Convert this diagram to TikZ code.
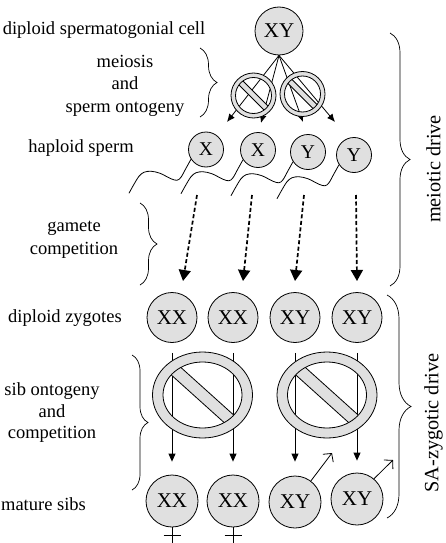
\documentclass[tikz,border=0pt]{standalone}
\usepackage{fontspec}
\setmainfont{Liberation Serif}
\usetikzlibrary{arrows.meta,decorations.pathreplacing,calc}
\definecolor{cellgray}{gray}{0.88}
\newcommand\nosign[7]{%
  \fill[cellgray, even odd rule] (#1) ellipse[x radius=#2,y radius=#3] (#1) ellipse[x radius=#4,y radius=#5];
  \begin{scope}
    \clip (#1) ellipse[x radius=#4,y radius=#5];
    \filldraw[fill=cellgray, line width=.8pt, shift={(#1)}, rotate=#7] (-90,-#6) -- (90,-#6) -- (90,#6) -- (-90,#6) -- cycle;
  \end{scope}
  \draw[line width=.8pt] (#1) ellipse[x radius=#2,y radius=#3] (#1) ellipse[x radius=#4,y radius=#5];
}
\begin{document}
\begin{tikzpicture}[x=1pt,y=-1pt,
  cell/.style={circle,draw,fill=cellgray,line width=.8pt,inner sep=0pt,minimum size=#1},
  lab/.style={font=\fontsize{18.5}{22}\selectfont,anchor=base,inner sep=0pt},
  side/.style={font=\fontsize{20.3}{24}\selectfont,rotate=90,inner sep=0pt},
  brc/.style={decorate,decoration={brace,amplitude=#1},line width=.7pt},
  marrow/.style={line width=.8pt,-{Latex[length=8pt,width=7pt]}},
  darrow/.style={line width=1.7pt,dash pattern=on 4pt off 2.5pt,-{Triangle[length=11pt,width=12pt]}},
  varrow/.style={line width=.8pt,-{Triangle[length=8pt,width=7pt]}},
  tail/.style={line width=.8pt},
  sym/.style={line width=.8pt},
  big/.style={font=\fontsize{21}{21}\selectfont},
  small/.style={font=\fontsize{19.5}{19.5}\selectfont},
]
\useasboundingbox (0,0) rectangle (445,543);

% ---- labels on the left
\node[lab] (l1) at (104,35) {diploid spermatogonial cell};
\node[lab] (l2a) at (125,67) {meiosis};
\node[lab] (l2b) at (125,89.5) {and};
\node[lab] (l2c) at (125,112) {sperm ontogeny};
\node[lab] (l3) at (81,152) {haploid sperm};
\node[lab] (l4a) at (74,231) {gamete};
\node[lab] (l4b) at (74,254) {competition};
\node[lab] (l5) at (65,322) {diploid zygotes};
\node[lab] (l6a) at (52,395) {sib ontogeny};
\node[lab] (l6b) at (52,417) {and};
\node[lab] (l6c) at (52,438) {competition};
\node[lab] (l7) at (43.5,510) {mature sibs};

% ---- braces
\draw[brc=17pt] (200,48) -- (200,117);
\draw[brc=17pt] (140,203) -- (140,285);
\draw[brc=16pt] (132,355) -- (132,490);
\draw[brc=20pt] (390,33) -- (390,286);
\draw[brc=24pt] (387,295) -- (387,518);
\node[side] (r1) at (433.5,169) {meiotic drive};
\node[side] (r2) at (433.5,423) {SA-zygotic drive};

% ---- parent cell
\node[cell=48pt,big] (p) at (279,31) {XY};

% ---- meiosis arrows
\coordinate (a1) at (227,122);
\coordinate (a2) at (261,123);
\coordinate (a3) at (303,122);
\coordinate (a4) at (335,122);
\draw[marrow] (p.south) -- (a1);
\draw[marrow] (p.south) -- (a2);
\draw[marrow] (p.south) -- (a3);
\draw[marrow] (p.south) -- (a4);
\coordinate (sg1) at (253.5,95.5);
\coordinate (sg2) at (302.5,94);
\nosign{sg1}{22.5}{22.5}{18}{18}{2.8}{-45}
\nosign{sg2}{22.5}{22.5}{18}{18}{2.8}{-45}

% ---- sperm
\node[cell=35pt,small] (s1) at (206,149.5) {X};
\node[cell=35pt,small] (s2) at (258,150) {X};
\node[cell=35pt,small] (s3) at (308,152) {Y};
\node[cell=35pt,small] (s4) at (354,155) {Y};
\foreach \s in {s1,s2,s3,s4}{
  \draw[tail,shift={(\s.213)}] plot[smooth,tension=0.55] coordinates
   {(0,0) (-5,9) (-10,18) (-14,21) (-20,19.5) (-31,14) (-40,12) (-47,13) (-52,17) (-57,25) (-62,34)};
}

% ---- gamete competition (dashed arrows)
\coordinate (d1) at (197,195);
\coordinate (d2) at (252,195);
\coordinate (d3) at (304,195);
\coordinate (d4) at (356,195);
\coordinate (e1) at (183,281);
\coordinate (e2) at (243,281);
\coordinate (e3) at (295,281);
\coordinate (e4) at (357,281);
\draw[darrow] (d1) -- (e1);
\draw[darrow] (d2) -- (e2);
\draw[darrow] (d3) -- (e3);
\draw[darrow] (d4) -- (e4);

% ---- zygotes
\node[cell=50pt,big] (z1) at (172,317.5) {XX};
\node[cell=50pt,big] (z2) at (233,317.5) {XX};
\node[cell=50pt,big] (z3) at (295,317.5) {XY};
\node[cell=50pt,big] (z4) at (357,317.5) {XY};

% ---- mature sibs
\node[cell=52pt,big] (m1) at (172,501) {XX};
\node[cell=52pt,big] (m2) at (233,501) {XX};
\node[cell=52pt,big] (m3) at (295,502) {XY};
\node[cell=52pt,big] (m4) at (357,499) {XY};

% ---- sib ontogeny arrows
\draw[varrow,shorten <=10pt,shorten >=13pt] (z1.south) -- (m1.north);
\draw[varrow,shorten <=10pt,shorten >=13pt] (z2.south) -- (m2.north);
\draw[varrow,shorten <=10pt,shorten >=14pt] (z3.south) -- (m3.north);
\draw[varrow,shorten <=10pt,shorten >=12pt] (z4.south) -- (m4.north);
\coordinate (bs1) at (202.5,395);
\coordinate (bs2) at (327,395);
\nosign{bs1}{50}{43}{39.5}{33}{6}{-42}
\nosign{bs2}{50}{43}{39.5}{33}{6}{-42}

% ---- sex symbols
\coordinate (f1) at (172,548);
\coordinate (f2) at (233,548);
\coordinate (h1a) at (163.5,535);
\coordinate (h1b) at (180.5,535);
\coordinate (h2a) at (224.5,535);
\coordinate (h2b) at (241.5,535);
\draw[sym] (m1.south) -- (f1);
\draw[sym] (h1a) -- (h1b);
\draw[sym] (m2.south) -- (f2);
\draw[sym] (h2a) -- (h2b);
\coordinate (ma3) at (332,453);
\coordinate (ma4) at (393,460);
\draw[sym,-{Straight Barb[length=6pt,width=13pt]}] (m3.53) -- (ma3);
\draw[sym,-{Straight Barb[length=6pt,width=13pt]}] (m4.50) -- (ma4);
\end{tikzpicture}
\end{document}
